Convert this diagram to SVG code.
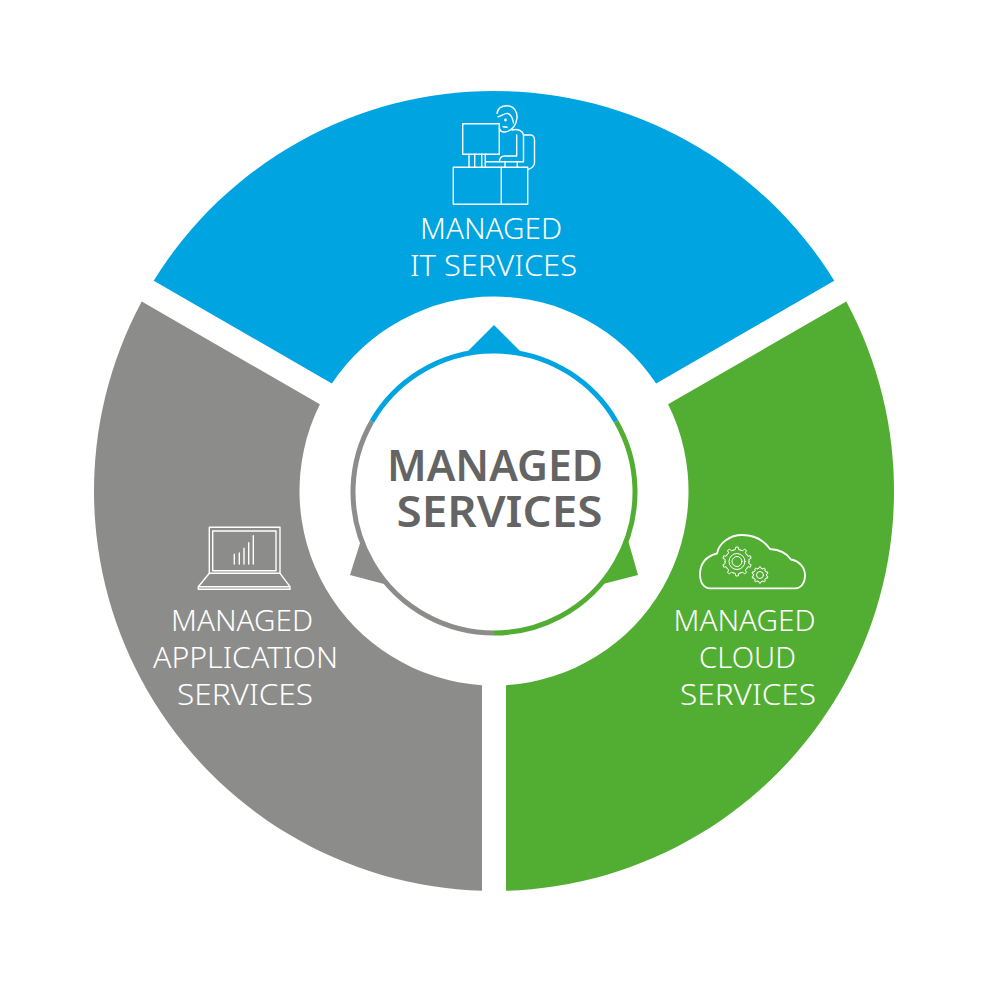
<svg xmlns="http://www.w3.org/2000/svg" xmlns:xlink="http://www.w3.org/1999/xlink" width="1001" height="1001" viewBox="0 0 1001 1001">
  <style>
    .label { font-family: "Noto Sans", "Open Sans", sans-serif; font-weight: 300; font-size: 29px; fill: #fff; text-anchor: middle; }
    .title { font-family: "Noto Sans", "Open Sans", sans-serif; font-weight: 600; font-size: 44px; fill: #646464; text-anchor: middle; }
    .icon { fill: none; stroke: #fff; stroke-width: 1.4; stroke-linejoin: round; stroke-linecap: round; }
    .ring { fill: none; stroke-width: 5; }
    .blue { fill: #00a4e0; }
    .green { fill: #52ae32; }
    .grey { fill: #8c8c8b; }
  </style>
  <defs>
    <path id="tooth" d="M-3.71-11.41L-1.67-11.88L-1.26-14.44L1.26-14.44L1.67-11.88L3.71-11.41" vector-effect="non-scaling-stroke"/>
    <g id="gear">
      <use xlink:href="#tooth"/>
      <use xlink:href="#tooth" transform="rotate(36)"/>
      <use xlink:href="#tooth" transform="rotate(72)"/>
      <use xlink:href="#tooth" transform="rotate(108)"/>
      <use xlink:href="#tooth" transform="rotate(144)"/>
      <use xlink:href="#tooth" transform="rotate(180)"/>
      <use xlink:href="#tooth" transform="rotate(216)"/>
      <use xlink:href="#tooth" transform="rotate(252)"/>
      <use xlink:href="#tooth" transform="rotate(288)"/>
      <use xlink:href="#tooth" transform="rotate(324)"/>
    </g>
  </defs>
  <rect width="1001" height="1001" fill="#fff"/>

  <g id="managed-it-services">
    <path class="blue" d="M153.750 280.700A400 400 0 0 1 834.250 280.700L656.120 383.540A194.500 194.500 0 0 0 331.880 383.540Z"/>
    <g class="icon">
      <rect x="453.300" y="167.300" width="74.400" height="37"/>
      <path d="M501.300 167.300V204.300"/>
      <rect x="462.700" y="123.700" width="36.600" height="30.600"/>
      <path d="M469 154.300V167.300M474.700 154.300V167.300M481.700 154.300V167.300M485.300 154.300V167.300"/>
      <!-- head, hair and face of the seated operator -->
      <path d="M497 113.300C498 107 503 105.700 507 105.700C514 105.700 517.500 112 517 118C516.500 125 512 131 505 132C502 132.300 500 131 499.300 128"/>
      <path d="M498 116.700C502 116 505 112.500 508 113.500C512 115 513 120 513.500 123"/>
      <circle cx="505.500" cy="120" r=".7"/>
      <path d="M503 126.700L507 127.300"/>
      <!-- torso, arm, keyboard and chair -->
      <path d="M512 130C518 128.500 524 131 523.500 137V161.700"/>
      <path d="M516.700 135V156H505C501 156 499.500 159 499.500 161.700"/>
      <path d="M486 161.700H523.500M505 161.700V167.300M517.300 161.700V167.300"/>
      <path d="M524 135H530C533 135 534.500 137 534.500 140V163C534.500 166 532 168 528 169.500"/>
    </g>
    <text class="label" x="491" y="238.500" textLength="142" lengthAdjust="spacingAndGlyphs">MANAGED</text>
    <text class="label" x="493.500" y="275.500" textLength="167" lengthAdjust="spacingAndGlyphs">IT SERVICES</text>
  </g>

  <g id="managed-cloud-services">
    <path class="green" d="M846.250 301.480A400 400 0 0 1 506 890.820V685.130A194.500 194.500 0 0 0 668.120 404.320Z"/>
    <g class="icon">
      <path d="M710 588.300H795C801 588.300 805 583 805 575.500C805 567 799 561 791 559.500C787 553.500 779 549.500 770 549C763 539 752 535 742 535C730 535 719 543 717 553.500C706 556 700 564 700 574C700 583 704 588.300 710 588.300Z" stroke-width="1.800"/>
      <use xlink:href="#gear" transform="translate(737 561.500)" stroke-width="1"/>
      <circle cx="737" cy="561.500" r="8" stroke-width="1"/>
      <circle cx="737" cy="561.500" r="5" stroke-width="1"/>
      <use xlink:href="#gear" transform="translate(760 575) scale(.56)" stroke-width="1"/>
      <circle cx="760" cy="575" r="3.500" stroke-width="1"/>
    </g>
    <text class="label" x="744.500" y="630.500" textLength="142" lengthAdjust="spacingAndGlyphs">MANAGED</text>
    <text class="label" x="747.500" y="667.500" textLength="97" lengthAdjust="spacingAndGlyphs">CLOUD</text>
    <text class="label" x="748" y="704.500" textLength="136" lengthAdjust="spacingAndGlyphs">SERVICES</text>
  </g>

  <g id="managed-application-services">
    <path class="grey" d="M141.750 301.480L319.880 404.320A194.500 194.500 0 0 0 482 685.130V890.820A400 400 0 0 1 141.750 301.480Z"/>
    <g class="icon">
      <rect x="209.300" y="527.300" width="70.700" height="46"/>
      <rect x="212.700" y="531" width="63.300" height="39.700"/>
      <path d="M209.300 573.300L198.300 586.700V589.300H290V586.700L280 573.300M198.300 586.700H290"/>
      <path d="M234.300 564V554.300M239.300 564V553M244 564V548.300M248.700 564V542.700M253.300 564V535.700"/>
    </g>
    <text class="label" x="242" y="630.500" textLength="142" lengthAdjust="spacingAndGlyphs">MANAGED</text>
    <text class="label" x="245.500" y="667.500" textLength="185" lengthAdjust="spacingAndGlyphs">APPLICATION</text>
    <text class="label" x="245" y="704.500" textLength="136" lengthAdjust="spacingAndGlyphs">SERVICES</text>
  </g>

  <g id="managed-services-hub">
    <path class="blue" d="M468 351L494 325L520 351Z"/>
    <path class="green" d="M628 540L638 575L603 584Z"/>
    <path class="grey" d="M361 540L350 575L384 584Z"/>
    <circle cx="494" cy="492" r="141" fill="#fff"/>
    <path class="ring" stroke="#00a4e0" d="M371.900 421.500A141 141 0 0 1 616.100 421.500"/>
    <path class="ring" stroke="#52ae32" d="M616.100 421.500A141 141 0 0 1 494 633"/>
    <path class="ring" stroke="#8c8c8b" d="M494 633A141 141 0 0 1 371.900 421.500"/>
    <text class="title" x="495" y="480.500" textLength="216" lengthAdjust="spacingAndGlyphs">MANAGED</text>
    <text class="title" x="499.500" y="527" textLength="206" lengthAdjust="spacingAndGlyphs">SERVICES</text>
  </g>
</svg>
